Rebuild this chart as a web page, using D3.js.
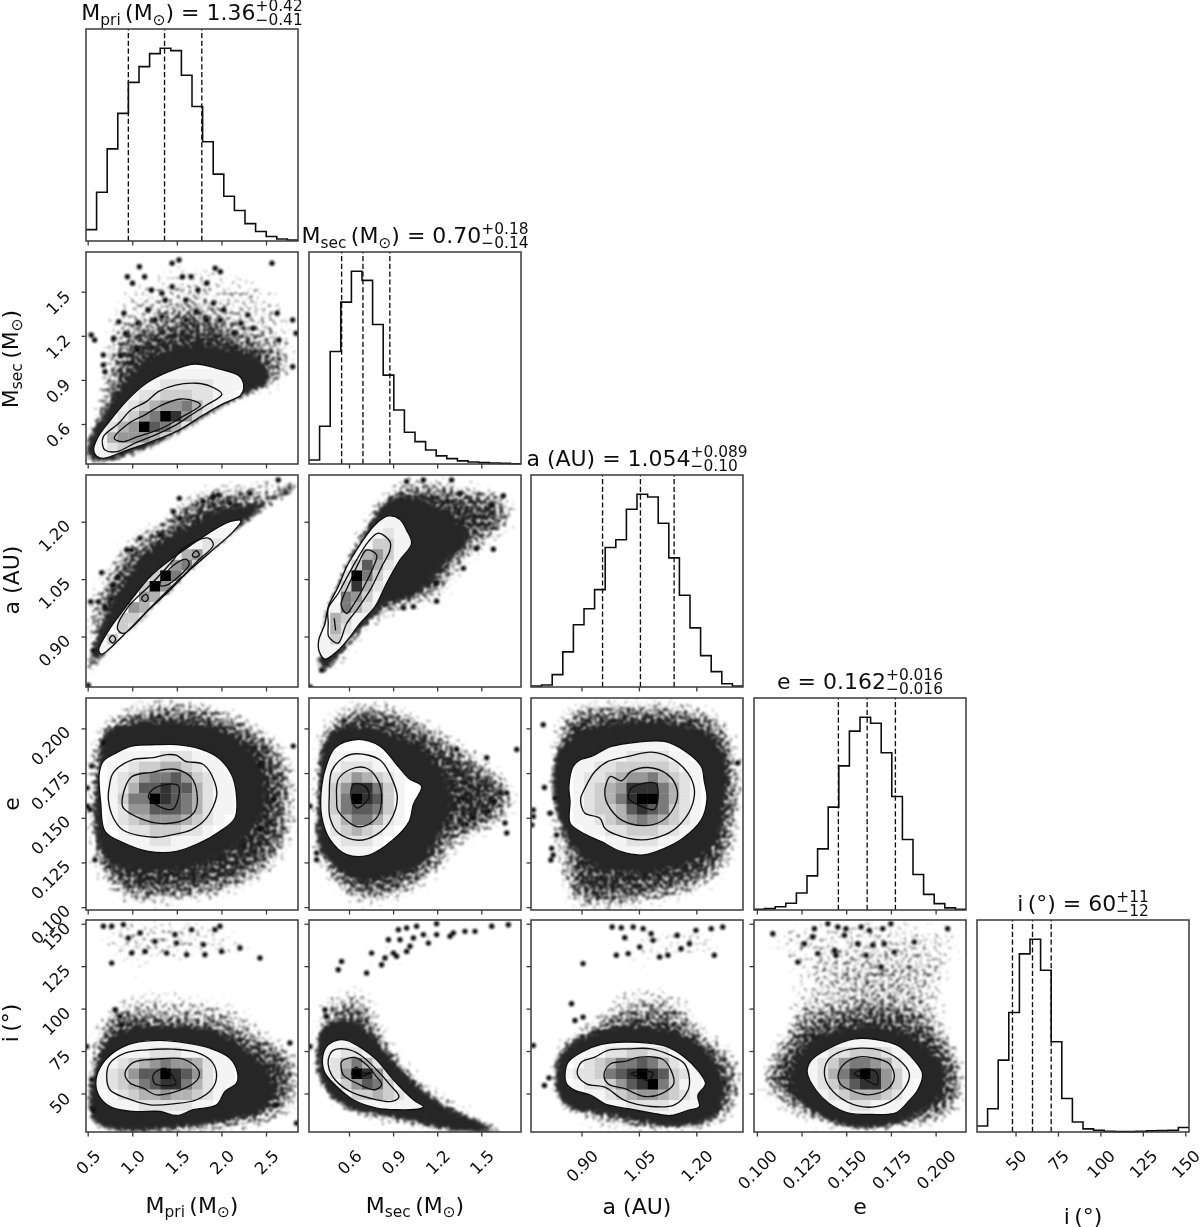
<!DOCTYPE html>
<html><head><meta charset="utf-8">
<style>html,body{margin:0;padding:0;background:#fff}svg{display:block}text{font-family:"DejaVu Sans",sans-serif;fill:#111}</style>
<script src="https://cdn.jsdelivr.net/npm/d3@7"></script></head>
<body><svg id="c" width="1200" height="1227"></svg>
<script>
// ---------- axes ----------
const domainM=[0.481,2.859], domainS=[0.328,1.77], domainA=[0.768,1.322], domainE=[0.0984,0.217], domainI=[27.3,152.2];
const ticksM=[0.5,1,1.5,2,2.5], ticksS=[0.6,0.9,1.2,1.5], ticksA=[0.9,1.05,1.2], ticksE=[0.1,0.125,0.15,0.175,0.2], ticksI=[50,75,100,125,150];
const tickLabM=["0.5","1.0","1.5","2.0","2.5"], tickLabS=["0.6","0.9","1.2","1.5"], tickLabA=["0.90","1.05","1.20"], tickLabE=["0.100","0.125","0.150","0.175","0.200"], tickLabI=["50","75","100","125","150"];
// ---------- 1-D histograms (height, peak = 100) ----------
const histM=[5.9,25.3,47.8,66.2,82.3,90.5,97.2,100,98.8,86,69.8,51.5,34.7,23.2,15.8,9,4.9,2.3,1,0.5];
const histS=[2.1,19.6,58.4,84,100,95.3,72.4,46.1,28,16.5,11.6,7.3,4.2,2.8,1.6,1,0.7,0.5,0.3,0.1];
const histA=[0.5,1,6.4,18.2,32.3,40.6,50.5,72.4,76.4,92.2,100,98.6,85,67,47.6,30.7,16.3,8,1.7,0.5];
const histE=[0.4,0.7,1.7,3.5,8.8,17.7,31.7,53.4,74.8,92.8,100,96.9,81.6,58.9,36.6,18.4,8.1,3.3,1.1,0.4];
const histI=[3.1,12.1,37.3,62,92.4,100,83.9,46.8,17.4,5.2,1.6,0.9,0.3,0.2,0.2,0.3,0.6,0.7,0.9,2.3];
const quantM=[0.956,1.362,1.78], quantS=[0.55,0.695,0.878], quantA=[0.955,1.054,1.142], quantE=[0.1456,0.1617,0.1775], quantI=[48.2,60,71];
// ---------- Mpri / Msec ----------
const msOuter=d3.zip([.567,.617,.771,.945,1.158,1.408,1.698,1.949,2.2,2.25,2.219,2.026,1.795,1.524,1.215,.945,.675,.598],[.423,.514,.639,.763,.877,.956,1.008,.979,.927,.865,.797,.741,.661,.559,.48,.423,.366,.382]);
const msMid=d3.zip([.667,.675,.849,.984,1.158,1.292,1.486,1.717,1.872,2.006,1.833,1.66,1.486,1.254,1.022,.829,.694],[.457,.514,.605,.695,.752,.82,.865,.877,.858,.802,.729,.661,.593,.525,.468,.412,.423]);
const msIn=d3.zip([.798,.964,1.138,1.331,1.544,1.717,1.764,1.563,1.331,1.061,.887],[.502,.605,.661,.729,.77,.752,.729,.65,.571,.514,.48]);
const msDense=d3.zip([.482,.528,.675,.81,1.022,1.292,1.679,2.026,2.296,2.489,2.567,2.451,2.219,1.795,1.215,.675],[.366,.536,.673,.809,.967,1.081,1.149,1.126,1.081,1.001,.899,.843,.786,.639,.446,.344]);
const msStip=d3.zip([.54,.62,.83,1.33,1.68,1.99,2.33,2.68,2.857,2.838,2.528,2.026,1.215,.6],[.468,.85,1.15,1.3,1.38,1.28,1.18,1.06,.96,.922,.809,.729,.446,.33]);
const msSparse=[d3.zip([.6,.945,1.447,2.026,2.605,2.857,2.857,2.451],[1.1,1.6,1.72,1.7,1.6,1.35,1,1.1])];
const msClumps=[[.54,1.205],[.578,1.171],[.675,1.069],[.675,1.001],[.694,.956],[.791,1.183],[.849,1.296],[.926,1.217],[.906,1.353],[.945,1.602],[1.08,1.67],[1.138,1.602],[1.003,1.557],[1.215,1.512],[1.331,1.489],[1.37,1.444],[1.447,1.693],[1.524,1.716],[1.563,1.602],[1.66,1.602],[1.833,1.557],[1.737,1.512],[1.93,1.659],[1.988,1.636],[1.91,1.421],[2.026,1.376],[2.296,1.342],[2.354,1.251],[2.644,1.171],[2.625,1.353],[2.799,1.307],[2.837,1.217],[2.567,1.693],[1.447,1.534],[1.601,1.444],[1.717,1.364],[1.833,1.307],[1.988,1.307],[1.177,1.376],[1.254,1.307],[1.061,1.285],[.868,1.069],[1.061,1.103],[1.601,1.307],[1.331,1.33],[2.142,1.217],[2.219,1.285],[2.799,.99]];
const msCells=[[11,6,"111111111"],[12,4,"11122222111"],[13,3,"11223332211"],[14,2,"11234556421"],[15,2,"1235698531"],[16,1,"1245976421"],[17,1,"145554321"],[18,1,"123321"],[19,1,"11"]];
// ---------- Mpri / a ----------
const maOuter=d3.zip([.623,.75,.956,1.199,1.423,1.685,1.946,2.096,2.219,2.133,1.946,1.685,1.423,1.161,.9,.75,.657],[.864,.921,.986,1.056,1.1,1.143,1.183,1.2,1.203,1.174,1.135,1.082,1.026,.965,.903,.869,.854]);
const maMid=d3.zip([.833,.956,1.199,1.46,1.554,1.853,1.909,1.722,1.46,1.199,.9],[.921,.978,1.034,1.1,1.128,1.157,1.139,1.095,1.03,.973,.908]);
const maIn=d3.zip([1.311,1.423,1.602,1.64,1.498,1.386],[1.034,1.078,1.102,1.089,1.052,1.034]);
const maLoopA=d3.zip([1.105,1.153,1.18,1.142],[1,1.01,1,.991]), maLoopB=d3.zip([.743,.78,.814,.78],[.893,.903,.893,.883]), maLoopC=d3.zip([1.673,1.722,1.752,1.703],[1.113,1.124,1.113,1.107]);
const maDense=d3.zip([.489,.545,.676,.806,.937,1.236,1.647,1.946,2.283,2.507,2.806,2.862,2.806,2.581,2.283,1.984,1.759,1.46,1.161,.75,.564,.507],[.803,.864,.943,1.004,1.056,1.135,1.191,1.231,1.248,1.261,1.309,1.296,1.279,1.248,1.2,1.143,1.1,1.03,.96,.869,.812,.773]);
const maStip=d3.zip([.489,.507,.862,1.311,1.759,2.283,2.619,2.862,2.862,2.581,1.46,.75,.564],[.794,.986,1.135,1.213,1.292,1.301,1.318,1.318,1.283,1.244,1.026,.864,.808]);
const maClumps=[[.534,.991],[.62,.991],[.694,.978],[.769,.999],[.564,.864],[1.528,1.261],[1.965,1.27],[1.909,1.266],[2.32,1.274],[2.638,1.309],[1.087,1.157],[.937,1.126],[1.46,1.226],[1.535,1.209],[1.311,1.165],[.993,1.126],[.657,1.067],[.788,1.034],[.844,1.056],[.507,.773],[2.096,1.248],[1.797,1.253]];
const maCells=[[5,11,"111"],[6,10,"1221"],[7,8,"14521"],[8,7,"25631"],[9,6,"39631"],[10,5,"39521"],[11,5,"5421"],[12,4,"5421"],[13,3,"3321"],[14,3,"321"],[15,2,"31"],[16,1,"11"]];
// ---------- Msec / a ----------
const saOuter=d3.zip([.394,.398,.437,.516,.607,.675,.777,.856,.947,1.026,.992,.947,.868,.788,.72,.652,.584,.527,.459,.437],[.89,.86,.841,.86,.899,.934,.978,1.039,1.1,1.143,1.178,1.206,1.215,1.196,1.165,1.126,1.082,1.03,.978,.934]);
const saMid=d3.zip([.459,.471,.527,.584,.652,.743,.822,.879,.879,.8,.732,.652,.595,.527,.459,.459],[.903,.895,.883,.934,.969,1.021,1.082,1.126,1.148,1.17,1.148,1.1,1.061,1.013,.973,.934]);
const saIn=d3.zip([.546,.584,.629,.696,.766,.788,.72,.664,.607,.561],[.982,.96,.982,1.026,1.082,1.113,1.126,1.091,1.043,1.004]);
const saSliver=d3.zip([.5,.509,.505],[.947,.916,.93]);
const saDense=d3.zip([.38,.414,.437,.425,.516,.629,.743,.822,.924,1.083,1.196,1.31,1.423,1.355,1.242,1.196,1.106,.992,.868,.766,.629,.516,.425],[.829,.86,.89,.934,1.03,1.126,1.196,1.248,1.27,1.261,1.239,1.213,1.161,1.122,1.091,1.056,1.021,.995,.986,.951,.899,.838,.803]);
const saStip=d3.zip([.357,.391,.629,.788,.924,1.151,1.378,1.673,1.763,1.695,1.537,1.378,1.219,.992,.72,.561,.448],[.786,.856,1.161,1.257,1.314,1.318,1.301,1.283,1.231,1.17,1.135,1.074,.986,.969,.908,.821,.794]);
const saClumps=[[.97,.975],[1.038,.978],[1.196,.992],[1.192,1.037],[1.378,1.078],[1.65,1.268],[1.571,1.244],[1.582,1.128],[1.468,1.13],[.414,.812],[.335,.768],[1.355,1.274],[.992,1.305],[1.106,1.309],[1.298,1.309]];
const saCells=[[4,6,"111"],[5,6,"1211"],[6,5,"13311"],[7,4,"14531"],[8,4,"37421"],[9,3,"296311"],[10,3,"38421"],[11,3,"6531"],[12,2,"16421"],[13,2,"4311"],[14,2,"421"],[15,1,"131"],[16,1,"11"]];
// ---------- Mpri / e ----------
const meOuter=d3.zip([.63,.676,.825,.993,1.274,1.498,1.759,1.965,2.114,2.17,2.152,1.984,1.759,1.498,1.18,.9,.694,.646],[.1752,.1817,.1864,.1901,.1909,.1909,.1886,.1836,.1742,.1621,.1499,.1424,.1359,.1312,.1312,.1359,.1424,.1583]);
const meMid=d3.zip([.743,.788,.993,1.236,1.386,1.498,1.591,1.797,1.928,1.946,1.834,1.666,1.46,1.255,.9,.788,.732],[.1677,.1752,.1823,.1836,.1853,.1849,.1817,.1798,.1695,.1621,.1499,.1434,.1406,.1391,.143,.1499,.1602]);
const meIn=d3.zip([.889,.993,1.236,1.367,1.498,1.666,1.729,1.703,1.572,1.255,.9],[.1611,.1729,.1755,.177,.177,.1723,.1621,.1537,.1486,.1471,.1555]);
const meCore=d3.zip([1.18,1.255,1.516,1.46,1.311],[.1617,.1667,.168,.155,.1561]);
const meDense=d3.zip([.631,.694,.975,1.498,1.946,2.283,2.469,2.507,2.357,2.058,1.685,1.124,.713,.582,.582],[.1845,.1985,.2032,.2041,.2004,.191,.177,.1602,.1434,.1303,.1219,.12,.1247,.1396,.1677]);
const meStip=d3.zip([.49,.545,.937,1.685,2.283,2.731,2.862,2.731,2.283,1.685,.862,.564,.489],[.1658,.1976,.2135,.2163,.2069,.1901,.1602,.1284,.1097,.1022,.1022,.1209,.1434]);
const meClumps=[[.496,.1667],[.496,.1565],[.526,.1546],[.545,.1789],[.676,.192],[.582,.1265],[2.581,.1602],[2.432,.1798],[2.806,.1901],[2.432,.1434]];
const meCells=[[5,3,"11112221111"],[6,2,"11233443211"],[7,2,"123566753211"],[8,2,"124778774211"],[9,2,"136698764211"],[10,2,"125577764211"],[11,2,"12345554321"],[12,3,"122333221"],[13,3,"11122111"],[14,5,"1111"]];
// ---------- Msec / e ----------
const seOuter=d3.zip([.414,.448,.505,.652,.811,.924,1.01,1.094,1.038,1.01,.902,.732,.584,.471,.414],[.1677,.1798,.1892,.1938,.1901,.1798,.1718,.1677,.1574,.148,.1378,.129,.1294,.1378,.1508]);
const seMid=d3.zip([.466,.482,.561,.652,.811,.89,.929,.879,.788,.663,.527,.471],[.1621,.1761,.1836,.1858,.1823,.1723,.1611,.148,.1406,.1374,.1415,.1499]);
const seIn=d3.zip([.516,.527,.607,.709,.788,.822,.788,.663,.527],[.1602,.1714,.177,.178,.1723,.1621,.1499,.1449,.1537]);
const seCore=d3.zip([.614,.629,.709,.738,.709,.652],[.1617,.1686,.1677,.1621,.1583,.1555]);
const seDense=d3.zip([.391,.414,.493,.675,.879,1.106,1.264,1.31,1.196,1.128,.902,.675,.516,.391,.38],[.1677,.1901,.1995,.2013,.1976,.1882,.1733,.1565,.1378,.1265,.1172,.1144,.1209,.1322,.1508]);
const seStip=d3.zip([.346,.391,.584,.902,1.128,1.446,1.741,1.695,1.355,1.219,.902,.584,.425,.357],[.1602,.2013,.2153,.2144,.2051,.1882,.1677,.1471,.134,.1172,.1022,.1022,.1172,.134]);
const seClumps=[[1.582,.1593],[1.548,.1537],[1.661,.1471],[1.673,.1415],[1.441,.1499],[1.378,.1606],[1.537,.1836],[1.4,.1462],[.38,.1303],[.38,.1265],[.335,.1565],[1.741,.1882],[1.332,.1882],[1.627,.1639],[1.673,.1639]];
const seCells=[[5,2,"11111"],[6,1,"1122211"],[7,1,"12354321"],[8,1,"13588631"],[9,1,"13698731"],[10,1,"13677631"],[11,1,"12466421"],[12,2,"234321"],[13,2,"12221"],[14,3,"111"]];
// ---------- a / e ----------
const aeOuter=d3.zip([.867,.878,.896,.926,.978,1.048,1.117,1.169,1.213,1.221,1.228,1.213,1.165,1.117,1.061,1.004,.952,.9,.87,.87],[.1675,.1787,.1824,.1843,.1899,.1924,.1927,.1875,.1787,.1703,.1609,.1488,.1385,.1329,.1292,.131,.1366,.1419,.1469,.1591]);
const aeMid=d3.zip([.898,.909,.935,.969,1.022,1.082,1.134,1.178,1.195,1.186,1.156,1.117,1.056,.987,.961,.948,.909,.9],[.1609,.1666,.1759,.1815,.1843,.1867,.1834,.175,.1656,.1553,.146,.1404,.1376,.1408,.1441,.1497,.1525,.1563]);
const aeIn=d3.zip([.961,.965,.976,1.004,1.03,1.074,1.126,1.15,1.143,1.108,1.061,1.004,.969],[.1628,.1694,.1731,.1707,.1759,.1781,.174,.1656,.1563,.1479,.1456,.1488,.1572]);
const aeCore=d3.zip([1.023,1.03,1.056,1.095,1.091,1.048],[.1609,.1666,.169,.169,.1548,.1572]);
const aeDense=d3.zip([.822,.844,.909,1.013,1.143,1.239,1.282,1.273,1.256,1.169,1.048,.943,.865,.839],[.1703,.1909,.1993,.2039,.203,.1965,.1796,.1535,.1366,.1236,.1189,.1217,.1366,.1497]);
const aeStip=d3.zip([.818,.844,.969,1.16,1.273,1.321,1.321,1.273,1.1,.857,.839,.818],[.1722,.2114,.2161,.2152,.2077,.1834,.146,.1161,.1011,.1011,.1273,.1423]);
const aeClumps=[[.803,.1669],[.774,.1544],[.774,.1507],[.77,.146],[.822,.1329],[.826,.1292],[.82,.1264],[.8,.2021],[.831,.1609],[.818,.1525],[.835,.1404],[1.308,.1806]];
const aeCells=[[4,7,"111111"],[5,5,"1111222211"],[6,4,"112233333211"],[7,4,"122345564321"],[8,4,"123458886421"],[9,4,"123468996421"],[10,4,"123347876321"],[11,4,"112345654321"],[12,5,"1122333221"],[13,7,"1122211"],[14,8,"1111"]];
// ---------- Mpri / i ----------
const miOuter=d3.zip([.593,.657,.806,1.012,1.311,1.61,1.871,2.096,2.182,2.17,2.04,1.946,1.685,1.498,1.311,1.012,.75,.62],[58.1,66.9,74.8,79.7,81.3,79.7,76.7,70.8,62,56.1,51.2,43.3,40.4,37,39.4,39.4,42.3,49.2]);
const miMid=d3.zip([.713,.75,.919,1.161,1.46,1.722,1.89,1.946,1.901,1.722,1.46,1.199,.937,.75],[61,67.9,73.8,75.7,76.1,74.2,68.9,61,53.1,46.3,43.9,43.3,47.2,52.2]);
const miIn=d3.zip([.919,1.012,1.274,1.573,1.741,1.741,1.591,1.274,1.124,.975],[62,68.3,70.2,70.2,64,59,53.1,49.2,53.1,56.1]);
const miCore=d3.zip([1.236,1.367,1.442,1.49,1.255],[61,64.9,61,55.7,55.7]);
const miDense=d3.zip([.507,.564,.676,.9,1.236,1.685,2.021,2.283,2.507,2.619,2.432,2.17,1.685,.937,.564],[47.2,62,79.7,87.5,90.5,89.5,85.6,75.7,64,52.2,38.4,34.5,30.5,27.6,32.5]);
const miStip=d3.zip([.489,.507,.713,1.236,2.058,2.581,2.862,2.862,2.656,2.283,.638],[48.2,79.7,99.3,95.4,91.5,83.6,75.7,40.4,32.5,27.6,27.6]);
const miSparse=[d3.zip([.564,2.133,2.469,1.685,.75],[151.4,151.4,128.8,124.9,122.9]),d3.zip([.75,1.834,2.581,.788],[107.2,113.1,95.4,91.5])];
const miClumps=[[.676,148.5],[.769,148.5],[.9,149.5],[.956,141.6],[1.087,144.5],[1.255,139.6],[1.143,133.7],[.769,126.8],[1.479,143.6],[1.498,138.6],[1.61,131.8],[1.666,146.5],[1.797,137.7],[1.815,131.8],[1.927,146.5],[1.984,148.5],[2.002,133.7],[2.208,135.7],[1.386,132.7],[.862,95.4],[.806,99.3],[.881,90.5],[.489,77.7],[.545,58.1],[2.619,43.3],[2.843,32.5],[2.768,79.7],[.564,40.4],[2.432,129.8],[.993,132.7]];
const miCells=[[11,4,"11111111"],[12,3,"1112221111"],[13,2,"123456554211"],[14,1,"1235779875211"],[15,1,"1234678864211"],[16,2,"12344544321"],[17,2,"1112222211"],[18,3,"1111111"]];
// ---------- Msec / i ----------
const siOuter=d3.zip([.419,.448,.516,.584,.686,.788,.902,1.038,1.106,1.083,.924,.788,.629,.516,.437],[69.9,77.7,81.3,81.3,76.7,69.9,58.1,46.3,42.3,41,40.4,41.4,46.3,54.1,62]);
const siMid=d3.zip([.459,.493,.584,.675,.788,.879,.94,.89,.743,.607,.505,.466],[69.9,75.4,76.1,72.8,64,55.1,48.2,45.3,47.2,51.2,58.1,64]);
const siIn=d3.zip([.546,.55,.641,.72,.777,.822,.777,.675,.561],[65.9,68.9,71.2,66.9,61,55.1,52.2,55.1,61]);
const siCore=d3.zip([.618,.648,.698,.754,.686,.652],[61.4,65.5,62,62.4,60,59]);
const siDense=d3.zip([.38,.38,.425,.516,.675,.811,.947,1.106,1.31,1.673,1.31,.902,.629,.471,.391],[67.9,79.7,91.5,93.4,91.5,79.7,65.9,52.2,40.4,27.6,27.6,35.5,39.4,48.2,60]);
const siStip=d3.zip([.346,.38,.414,.539,.72,.902,1.128,1.446,1.763,1.763,1.242,.788,.516,.403],[71.8,93.4,107.2,101.3,103.3,79.7,56.1,40.4,28.6,27.2,27.2,32.5,42.3,52.2]);
const siSparse=[d3.zip([.403,.607,.766,.811,.539],[107.2,117,113.1,95.4,91.5]),d3.zip([.675,1.128,1.763,1.355,.902,.698],[132.7,148.5,151.4,140.6,121,119])];
const siClumps=[[.936,146.5],[.992,147.5],[1.06,148.5],[1.196,150],[1.106,143.6],[1.196,143.6],[1.31,144.5],[1.389,145.5],[1.457,145.5],[1.571,148.5],[1.684,149.4],[.868,140.6],[.947,140.6],[1.015,136.7],[1.14,138.6],[1.038,141.6],[.754,132.7],[.845,129.8],[.924,130.8],[.992,133.7],[.55,127.8],[.527,122.9],[.822,125.9],[.72,121],[.902,132.7],[1.287,142.6],[.335,77.7],[.448,95.4],[.437,99.3]];
const siCells=[[11,2,"111"],[12,1,"112211"],[13,1,"1246421"],[14,1,"12598521"],[15,2,"13576311"],[16,2,"11334321"],[17,3,"11111111"]];
// ---------- a / i ----------
const aiOuter=d3.zip([.857,.865,.9,.952,1.013,1.074,1.126,1.169,1.204,1.224,1.204,1.208,1.178,1.134,1.082,1.022,.961,.926,.883,.861],[61.6,68.5,74.4,78.9,80.3,79.7,77.3,71.4,63.6,55.7,48.8,42.3,40,37,38.6,41,43.9,48.8,51.8,55.7]);
const aiMid=d3.zip([.889,.9,.935,.969,1.022,1.082,1.134,1.169,1.182,1.178,1.143,1.082,1.013,.961,.913],[61.6,68.5,71.4,75.4,76.3,76.3,72.4,67.5,58.6,51.8,43.3,42.3,45.9,53.7,55.7]);
const aiIn=d3.zip([.959,.976,1.013,1.052,1.113,1.134,1.141,1.108,1.065,1.013,.969],[61.6,67.5,68.9,71.4,70,63.6,55.7,49.8,48.2,52.8,55.7]);
const aiCore=d3.zip([1.03,1.061,1.087,1.074,1.052],[61.6,63.2,62,57.7,59.6]);
const aiDense=d3.zip([.831,.839,.917,1.013,1.117,1.204,1.265,1.273,1.239,1.143,1.056,.961,.865,.831],[63.6,73.4,85.2,90.1,88.1,80.3,63.6,45.9,34.1,30.1,32.1,38,41,51.8]);
const aiStip=d3.zip([.822,.831,.909,1.013,1.134,1.239,1.317,1.317,1.265,.978,.865],[51.8,77.3,93,97,98.9,85.2,71.4,40,30.1,28.2,38]);
const aiSparse=[d3.zip([.952,1.273,1.273,1.1,.987],[140.2,150,130.4,124.5,130.4]),d3.zip([.978,1.1,1.204,1.204,.952],[114.7,118.6,104.8,93,93])];
const aiClumps=[[.98,148.1],[1.004,147.7],[1.035,148.1],[1.061,147.1],[1.082,144.1],[1.013,141.8],[1.087,140.2],[1.104,130.4],[1.126,131.4],[1.15,143.2],[1.16,135.3],[1.182,138.2],[1.199,146.1],[1.239,147.1],[1.269,148.1],[.904,126.5],[.774,78.3],[.815,59.2],[.803,54.7],[1.022,132.4],[1.052,136.3],[.991,131.4],[.904,95],[.874,102.9],[.883,93],[1.247,131.4]];
const aiCells=[[11,5,"1111111"],[12,4,"1112233221"],[13,4,"12346676421"],[14,3,"1223678987321"],[15,4,"122357896311"],[16,5,"11234554321"],[17,7,"112222111"],[18,9,"111111"]];
// ---------- e / i ----------
const eiOuter=d3.zip([.1281,.1304,.1397,.1546,.1667,.1788,.1881,.1927,.1899,.1844,.1778,.1639,.1508,.1406,.1331],[62.6,69.5,76.3,82.2,81.8,78.3,69.5,61.6,51.8,44.9,38.6,37.6,38.6,43.9,51.8]);
const eiMid=d3.zip([.1378,.1397,.1462,.1583,.1695,.1788,.1853,.1825,.1741,.1629,.1508,.1406],[61.6,69.5,74.4,76.7,75.4,70.4,61.6,52.8,44.9,41.9,44.9,53.7]);
const eiIn=d3.zip([.1456,.149,.1564,.1648,.1741,.1769,.1732,.162,.1527,.1467],[61.6,67.5,71.4,71,67.5,59.6,52.8,49.2,51.8,55.7]);
const eiCore=d3.zip([.1546,.1611,.1672,.1672,.1601],[61.6,64.5,62,55.1,58.6]);
const eiDense=d3.zip([.1182,.1229,.1378,.1564,.175,.1937,.2048,.2039,.1918,.1732,.1508,.1322,.121],[59.6,73.4,85.2,90.1,88.1,79.3,65.5,49.8,38,30.1,30.1,38,47.8]);
const eiStip=d3.zip([.1006,.108,.1229,.1471,.1657,.1844,.2067,.2169,.216,.1993,.1415,.1136,.1006],[61.6,77.3,93,98.9,102.9,98.9,87.1,69.5,40,30.1,28.2,40,51.8]);
const eiSparse=[d3.zip([.1006,.216,.2141,.1229,.1006],[148.1,150,122.5,120.6,136.3]),d3.zip([.1173,.2067,.2067,.1136],[114.7,118.6,93,91.1])];
const eiClumps=[[.1322,147.1],[.1397,150],[.1453,148.1],[.1499,147.1],[.149,143.2],[.1583,148.1],[.1629,146.1],[.1704,147.1],[.175,150],[.1434,134.3],[.1443,131.4],[.1611,131.4],[.1564,138.2],[.1648,137.3],[.1713,138.2],[.1341,132.4],[.1313,142.2],[.1769,133.3],[.1266,138.2],[.1881,139.2],[.2067,147.1],[.1089,144.1],[.1229,127.4],[.1695,124.5]];
const eiCells=[[11,8,"11111"],[12,6,"122333211"],[13,5,"1235665421"],[14,5,"12468985311"],[15,5,"1235788531"],[16,6,"123444321"],[17,7,"1122111"],[18,8,"11111"]];
// ---------- labels ----------
const paramM=[["M"],["pri",1],["\u2009(M"],["\u2299",1],[")"]], paramS=[["M"],["sec",1],["\u2009(M"],["\u2299",1],[")"]], paramA=[["a (AU)"]], paramE=[["e"]], paramI=[["i\u2009(\u00b0)"]];
const titleVals=[" = 1.36"," = 0.70"," = 1.054"," = 0.162"," = 60"];
const titleUp=["+0.42","+0.18","+0.089","+0.016","+11"], titleDn=["\u22120.41","\u22120.14","\u22120.10","\u22120.016","\u221212"];

// ---------- layout ----------
const colLeft=[86,309,531,754,977], rowTop=[29,252,475,698,920], size=212;
const xLabelBase=[1213,1213,1213.5,1213.5,1224], yLabelBase=[null,17.5,18.5,18.5,17.5], yLabelMid=[null,359,580,804,1023];
const params=[
 {dom:domainM,ticks:ticksM,lab:tickLabM,hist:histM,q:quantM,name:paramM},
 {dom:domainS,ticks:ticksS,lab:tickLabS,hist:histS,q:quantS,name:paramS},
 {dom:domainA,ticks:ticksA,lab:tickLabA,hist:histA,q:quantA,name:paramA},
 {dom:domainE,ticks:ticksE,lab:tickLabE,hist:histE,q:quantE,name:paramE},
 {dom:domainI,ticks:ticksI,lab:tickLabI,hist:histI,q:quantI,name:paramI}];
const pairs=[
 {r:1,c:0,stip:msStip,sparse:msSparse,dense:msDense,clumps:msClumps,cells:msCells,lines:[msOuter,msMid,msIn]},
 {r:2,c:0,stip:maStip,sparse:[],dense:maDense,clumps:maClumps,cells:maCells,lines:[maOuter,maMid,maIn,maLoopA,maLoopB,maLoopC]},
 {r:2,c:1,stip:saStip,sparse:[],dense:saDense,clumps:saClumps,cells:saCells,lines:[saOuter,saMid,saIn,saSliver]},
 {r:3,c:0,stip:meStip,sparse:[],dense:meDense,clumps:meClumps,cells:meCells,lines:[meOuter,meMid,meIn,meCore]},
 {r:3,c:1,stip:seStip,sparse:[],dense:seDense,clumps:seClumps,cells:seCells,lines:[seOuter,seMid,seIn,seCore]},
 {r:3,c:2,stip:aeStip,sparse:[],dense:aeDense,clumps:aeClumps,cells:aeCells,lines:[aeOuter,aeMid,aeIn,aeCore]},
 {r:4,c:0,stip:miStip,sparse:miSparse,dense:miDense,clumps:miClumps,cells:miCells,lines:[miOuter,miMid,miIn,miCore]},
 {r:4,c:1,stip:siStip,sparse:siSparse,dense:siDense,clumps:siClumps,cells:siCells,lines:[siOuter,siMid,siIn,siCore]},
 {r:4,c:2,stip:aiStip,sparse:aiSparse,dense:aiDense,clumps:aiClumps,cells:aiCells,lines:[aiOuter,aiMid,aiIn,aiCore]},
 {r:4,c:3,stip:eiStip,sparse:eiSparse,dense:eiDense,clumps:eiClumps,cells:eiCells,lines:[eiOuter,eiMid,eiIn,eiCore]}];

const FRAME="#3a3a3a", TICKFS=16.5, LABFS=22;
const shade=d3.scaleLinear().domain([0,1,2,3,4,5,6,7,8,9]).range(["#fff","#f4f4f4","#e2e2e2","#cdcdcd","#b2b2b2","#979797","#7a7a7a","#5a5a5a","#303030","#000"]);
const svg=d3.select("#c");
const defs=svg.append("defs");
function grain(id,blur,k2,k3,k4,color,freq,soft){
  const f=defs.append("filter").attr("id",id).attr("x","-25%").attr("y","-25%").attr("width","150%").attr("height","150%").attr("color-interpolation-filters","sRGB");
  f.append("feGaussianBlur").attr("in","SourceAlpha").attr("stdDeviation",blur).attr("result","b");
  f.append("feTurbulence").attr("type","fractalNoise").attr("baseFrequency",freq).attr("numOctaves",2).attr("seed",5).attr("result","t");
  f.append("feColorMatrix").attr("in","t").attr("type","matrix").attr("values","0 0 0 0 0  0 0 0 0 0  0 0 0 0 0  1 0 0 0 0").attr("result","n");
  f.append("feComposite").attr("in","b").attr("in2","n").attr("operator","arithmetic").attr("k1",0).attr("k2",k2).attr("k3",k3).attr("k4",k4).attr("result","a");
  f.append("feFlood").attr("flood-color",color).attr("result","fl");
  f.append("feComposite").attr("in","fl").attr("in2","a").attr("operator","in").attr("result","col");
  f.append("feGaussianBlur").attr("in","col").attr("stdDeviation",soft);
}
grain("stipple",14,2.8,2.8,-3.22,"#1c1c1c",0.26,0.8);
grain("tight",6,3.5,2,-2.4,"#282828",0.26,0.8);
defs.append("filter").attr("id","soft").attr("x",0).attr("y",0).attr("width",1).attr("height",1).append("feGaussianBlur").attr("stdDeviation",0.4);
defs.append("filter").attr("id","dotblur").attr("x","-10%").attr("y","-10%").attr("width","120%").attr("height","120%").append("feGaussianBlur").attr("stdDeviation",0.9);

const root=svg.append("g").attr("filter","url(#soft)");
root.append("rect").attr("width",1200).attr("height",1227).attr("fill","#fff");
function xS(c){return d3.scaleLinear().domain(params[c].dom).range([colLeft[c],colLeft[c]+size]);}
function yS(r){return d3.scaleLinear().domain(params[r].dom).range([rowTop[r]+size,rowTop[r]]);}
function styleAxis(g){g.select(".domain").remove();g.selectAll(".tick line").attr("stroke",FRAME).attr("stroke-width",1.3);}
function drawXAxis(c,r){
  const bottom=rowTop[r]+size,p=params[c];
  const ax=d3.axisBottom(xS(c)).tickValues(p.ticks).tickSize(4.5).tickFormat((d,i)=>r===4?p.lab[i]:"");
  const g=root.append("g").attr("transform",`translate(0,${bottom})`).call(ax);
  styleAxis(g);
  g.selectAll("text").attr("font-size",TICKFS).attr("font-family","DejaVu Sans").attr("fill","#111").attr("y",0).attr("dy",".36em").attr("text-anchor","middle")
   .each(function(){const w=this.getComputedTextLength(),b=(w+.73*TICKFS)*.7071;d3.select(this).attr("transform",`translate(0,${16.5+b/2}) rotate(-45)`);});
}
function drawYAxis(c,r){
  const p=params[r];
  const ax=d3.axisLeft(yS(r)).tickValues(p.ticks).tickSize(4.5).tickFormat((d,i)=>c===0?p.lab[i]:"");
  const g=root.append("g").attr("transform",`translate(${colLeft[c]},0)`).call(ax);
  styleAxis(g);
  g.selectAll("text").attr("font-size",TICKFS).attr("font-family","DejaVu Sans").attr("fill","#111").attr("x",0).attr("dy",".36em").attr("text-anchor","middle")
   .each(function(){const w=this.getComputedTextLength(),b=(w+.73*TICKFS)*.7071;d3.select(this).attr("transform",`translate(${-14.5-b/2},${.3*w+2.5}) rotate(-45)`);});
}
function math(t,parts,fs){
  let off=0;
  parts.forEach(([s,sub])=>{const target=sub?.2*fs:0;t.append("tspan").attr("dy",target-off).attr("font-size",sub?fs*.7:fs).text(s);off=target;});
  return off;
}
function frame(c,r){root.append("rect").attr("x",colLeft[c]).attr("y",rowTop[r]).attr("width",size).attr("height",size).attr("fill","none").attr("stroke",FRAME).attr("stroke-width",1.5);}

// 2-D panels
pairs.forEach((P,idx)=>{
  const x=xS(P.c),y=yS(P.r);
  const line=d3.line().x(d=>x(d[0])).y(d=>y(d[1])).curve(d3.curveCatmullRomClosed.alpha(.5));
  const cid="panel"+idx, oid="outer"+idx;
  defs.append("clipPath").attr("id",cid).append("rect").attr("x",colLeft[P.c]).attr("y",rowTop[P.r]).attr("width",size).attr("height",size);
  defs.append("clipPath").attr("id",oid).append("path").attr("d",line(P.lines[0]));
  const g=root.append("g").attr("clip-path",`url(#${cid})`);
  const st=g.append("g").attr("filter","url(#stipple)");
  st.append("path").attr("d",line(P.stip)).attr("fill","#000");
  P.sparse.forEach(s=>st.append("path").attr("d",line(s)).attr("fill","#000").attr("fill-opacity",.62));
  g.append("g").attr("filter","url(#tight)").append("path").attr("d",line(P.dense)).attr("fill","#000");
  g.append("g").attr("filter","url(#dotblur)").selectAll("circle").data(P.clumps).join("circle")
    .attr("cx",d=>x(d[0])).attr("cy",d=>y(d[1])).attr("r",2.7).attr("fill","#111");
  g.append("path").attr("d",line(P.lines[0])).attr("fill","#fff");
  const bx=d3.scaleBand().domain(d3.range(20)).range(x.range());
  const by=d3.scaleBand().domain(d3.range(20)).range([rowTop[P.r],rowTop[P.r]+size]);
  const cells=P.cells.flatMap(([r,c0,s])=>Array.from(s,(ch,i)=>({r,c:c0+i,v:+ch})));
  g.append("g").attr("clip-path",`url(#${oid})`).selectAll("rect").data(cells).join("rect")
    .attr("x",d=>bx(d.c)).attr("y",d=>by(d.r)).attr("width",bx.bandwidth()+.3).attr("height",by.bandwidth()+.3).attr("fill",d=>shade(d.v));
  g.selectAll("path.ct").data(P.lines).join("path").attr("class","ct").attr("d",d=>line(d)).attr("fill","none").attr("stroke","#111").attr("stroke-width",1.35);
  frame(P.c,P.r); drawXAxis(P.c,P.r); drawYAxis(P.c,P.r);
});

// histograms
params.forEach((p,c)=>{
  const x=xS(c),r=c,bottom=rowTop[r]+size;
  const edge=d3.scaleLinear().domain([0,20]).range(x.domain());
  const y=d3.scaleLinear().domain([0,110]).range([bottom,rowTop[r]]);
  const pts=p.hist.map((v,i)=>[edge(i),v]).concat([[edge(20),p.hist[19]]]);
  const step=d3.line().x(d=>x(d[0])).y(d=>y(d[1])).curve(d3.curveStepAfter);
  root.append("path").attr("d",step(pts)).attr("fill","none").attr("stroke","#111").attr("stroke-width",1.6);
  root.selectAll(null).data(p.q).join("line").attr("x1",d=>x(d)).attr("x2",d=>x(d)).attr("y1",bottom).attr("y2",rowTop[r])
    .attr("stroke","#111").attr("stroke-width",1.35).attr("stroke-dasharray","5.2,2.6");
  frame(c,r); drawXAxis(c,r);
  const xl=root.append("text").attr("x",colLeft[c]+size/2).attr("y",xLabelBase[c]).attr("text-anchor","middle").attr("font-size",LABFS).attr("font-family","DejaVu Sans");
  math(xl,p.name,LABFS);
  if(c>0){
    const yl=root.append("text").attr("transform",`translate(${yLabelBase[c]},${yLabelMid[c]}) rotate(-90)`).attr("text-anchor","middle").attr("font-size",LABFS).attr("font-family","DejaVu Sans");
    math(yl,p.name,LABFS);
  }
  const base=rowTop[r]-8.8, mid=colLeft[c]+size/2;
  const t=root.append("text").attr("y",base).attr("font-size",LABFS).attr("font-family","DejaVu Sans");
  const off=math(t,p.name,LABFS);
  t.append("tspan").attr("dy",-off).attr("font-size",LABFS).text(titleVals[c]);
  const up=root.append("text").attr("y",base-9).attr("font-size",LABFS*.7).attr("font-family","DejaVu Sans").text(titleUp[c]);
  const dn=root.append("text").attr("y",base+5).attr("font-size",LABFS*.7).attr("font-family","DejaVu Sans").text(titleDn[c]);
  const w=t.node().getComputedTextLength(), sw=Math.max(up.node().getComputedTextLength(),dn.node().getComputedTextLength());
  const x0=mid-(w+sw)/2;
  t.attr("x",x0); up.attr("x",x0+w); dn.attr("x",x0+w);
});
</script></body></html>
